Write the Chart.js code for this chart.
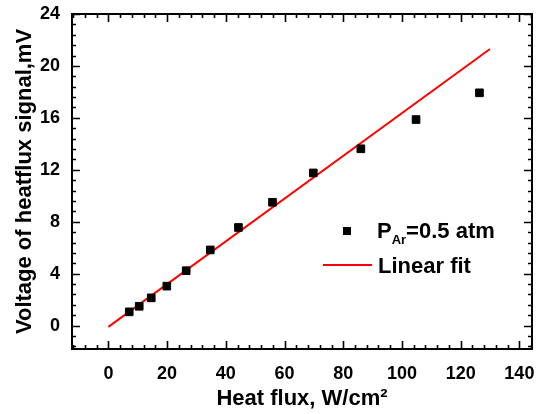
<!DOCTYPE html>
<html>
<head>
<meta charset="utf-8">
<script src="https://cdn.jsdelivr.net/npm/chart.js@4/dist/chart.umd.min.js"></script>
<style>
  body { margin: 0; background: #fff; }
  canvas { display: block; }
</style>
</head>
<body>
<canvas id="grafica" width="539" height="414"></canvas>
<script>
var heatFlux = [7.1, 10.5, 14.6, 19.9, 26.5, 34.7, 44.3, 55.9, 69.8, 86.0, 104.8, 126.4];
var voltage = [1.06, 1.49, 2.14, 3.04, 4.23, 5.83, 7.56, 9.50, 11.76, 13.62, 15.87, 17.93];

// recta del ajuste lineal
var fitX = [0, 130];
var fitY = [-0.1, 21.3];

// etiquetas de los ejes
var xTicks = [0, 20, 40, 60, 80, 100, 120, 140];
var yTicks = [0, 4, 8, 12, 16, 20, 24];

var fuente = "'Liberation Sans', Arial, sans-serif";

function aPuntos(xs, ys) {
    var pts = [];
    for (var i = 0; i < xs.length; i++) {
        pts.push({ x: xs[i], y: ys[i] });
    }
    return pts;
}

// marco con marcas hacia adentro en los 4 lados
var marco = {
    id: 'marco',
    afterDraw: function (chart) {
        var ctx = chart.ctx;
        var a = chart.chartArea;
        var sx = chart.scales.x;
        var sy = chart.scales.y;
        ctx.save();
        ctx.strokeStyle = '#000';
        ctx.lineWidth = 2;
        ctx.strokeRect(a.left, a.top, a.right - a.left, a.bottom - a.top);
        ctx.lineWidth = 1.6;
        ctx.beginPath();
        // eje x: menores cada 4, mayores cada 20
        for (var v = -12; v <= sx.max; v += 4) {
            var px = Math.round(sx.getPixelForValue(v)) + 0.5;
            var largo = (v % 20 === 0) ? 8 : 4;
            ctx.moveTo(px, a.bottom); ctx.lineTo(px, a.bottom - largo);
            ctx.moveTo(px, a.top); ctx.lineTo(px, a.top + largo);
        }
        // eje y: menores cada 0.8, mayores cada 4
        for (var k = -2; k <= 30; k++) {
            var val = k * 0.8;
            if (val < sy.min || val > sy.max) continue;
            var py = Math.round(sy.getPixelForValue(val)) + 0.5;
            var l2 = (k % 5 === 0) ? 8 : 4;
            ctx.moveTo(a.left, py); ctx.lineTo(a.left + l2, py);
            ctx.moveTo(a.right, py); ctx.lineTo(a.right - l2, py);
        }
        ctx.stroke();
        ctx.restore();
    }
};

// leyenda dibujada a mano para poder poner el subindice
var leyenda = {
    id: 'leyenda',
    afterDraw: function (chart) {
        var ctx = chart.ctx;
        var ds0 = chart.data.datasets[0];
        var ds1 = chart.data.datasets[1];
        ctx.save();
        ctx.fillStyle = ds0.backgroundColor;
        ctx.fillRect(343, 227, 8, 8);
        ctx.strokeStyle = ds1.borderColor;
        ctx.lineWidth = 2;
        ctx.beginPath();
        ctx.moveTo(323, 265);
        ctx.lineTo(372, 265);
        ctx.stroke();

        ctx.fillStyle = '#000';
        ctx.textBaseline = 'alphabetic';
        ctx.font = 'bold 22px ' + fuente;
        var x = 377;
        ctx.fillText('P', x, 238);
        x += ctx.measureText('P').width;
        ctx.font = 'bold 13px ' + fuente;
        ctx.fillText('Ar', x, 244);
        x += ctx.measureText('Ar').width;
        ctx.font = 'bold 22px ' + fuente;
        ctx.fillText('=0.5 atm', x, 238);
        ctx.fillText('Linear fit', 378, 273);
        ctx.restore();
    }
};

var grafica = new Chart(document.getElementById('grafica'), {
    type: 'scatter',
    data: {
        datasets: [{
            label: 'P_Ar=0.5 atm',
            data: aPuntos(heatFlux, voltage),
            pointStyle: 'rect',
            pointRadius: 5.4,
            pointBorderWidth: 1,
            backgroundColor: '#000000',
            borderColor: '#000000'
        }, {
            label: 'Linear fit',
            data: aPuntos(fitX, fitY),
            showLine: true,
            borderColor: '#ff0000',
            borderWidth: 2,
            pointRadius: 0
        }]
    },
    options: {
        responsive: false,
        animation: false,
        devicePixelRatio: 1,
        layout: { padding: { top: 14, right: 7, left: 0, bottom: 0 } },
        plugins: {
            legend: { display: false },
            tooltip: { enabled: false }
        },
        scales: {
            x: {
                type: 'linear',
                min: -12.4,
                max: 144.3,
                afterBuildTicks: function (s) { s.ticks = xTicks.map(function (v) { return { value: v }; }); },
                afterFit: function (s) { s.height = 65; s.paddingLeft = 0; s.paddingRight = 0; },
                grid: { display: false },
                border: { display: false },
                ticks: { color: '#000', padding: 6, font: { family: fuente, size: 18, weight: 'bold' } },
                title: {
                    display: true,
                    text: 'Heat flux, W/cm²',
                    color: '#000',
                    font: { family: fuente, size: 22, weight: 'bold' },
                    padding: { top: 0, bottom: 2 }
                }
            },
            y: {
                type: 'linear',
                min: -1.8,
                max: 24,
                afterBuildTicks: function (s) { s.ticks = yTicks.map(function (v) { return { value: v }; }); },
                afterFit: function (s) { s.width = 72; s.paddingTop = 0; s.paddingBottom = 0; },
                grid: { display: false },
                border: { display: false },
                ticks: { color: '#000', padding: 4, font: { family: fuente, size: 18, weight: 'bold' } },
                title: {
                    display: true,
                    text: 'Voltage of heatflux signal,mV',
                    color: '#000',
                    font: { family: fuente, size: 22, weight: 'bold' },
                    padding: { top: 12, bottom: 0 }
                }
            }
        }
    },
    plugins: [marco, leyenda]
});
</script>
</body>
</html>
